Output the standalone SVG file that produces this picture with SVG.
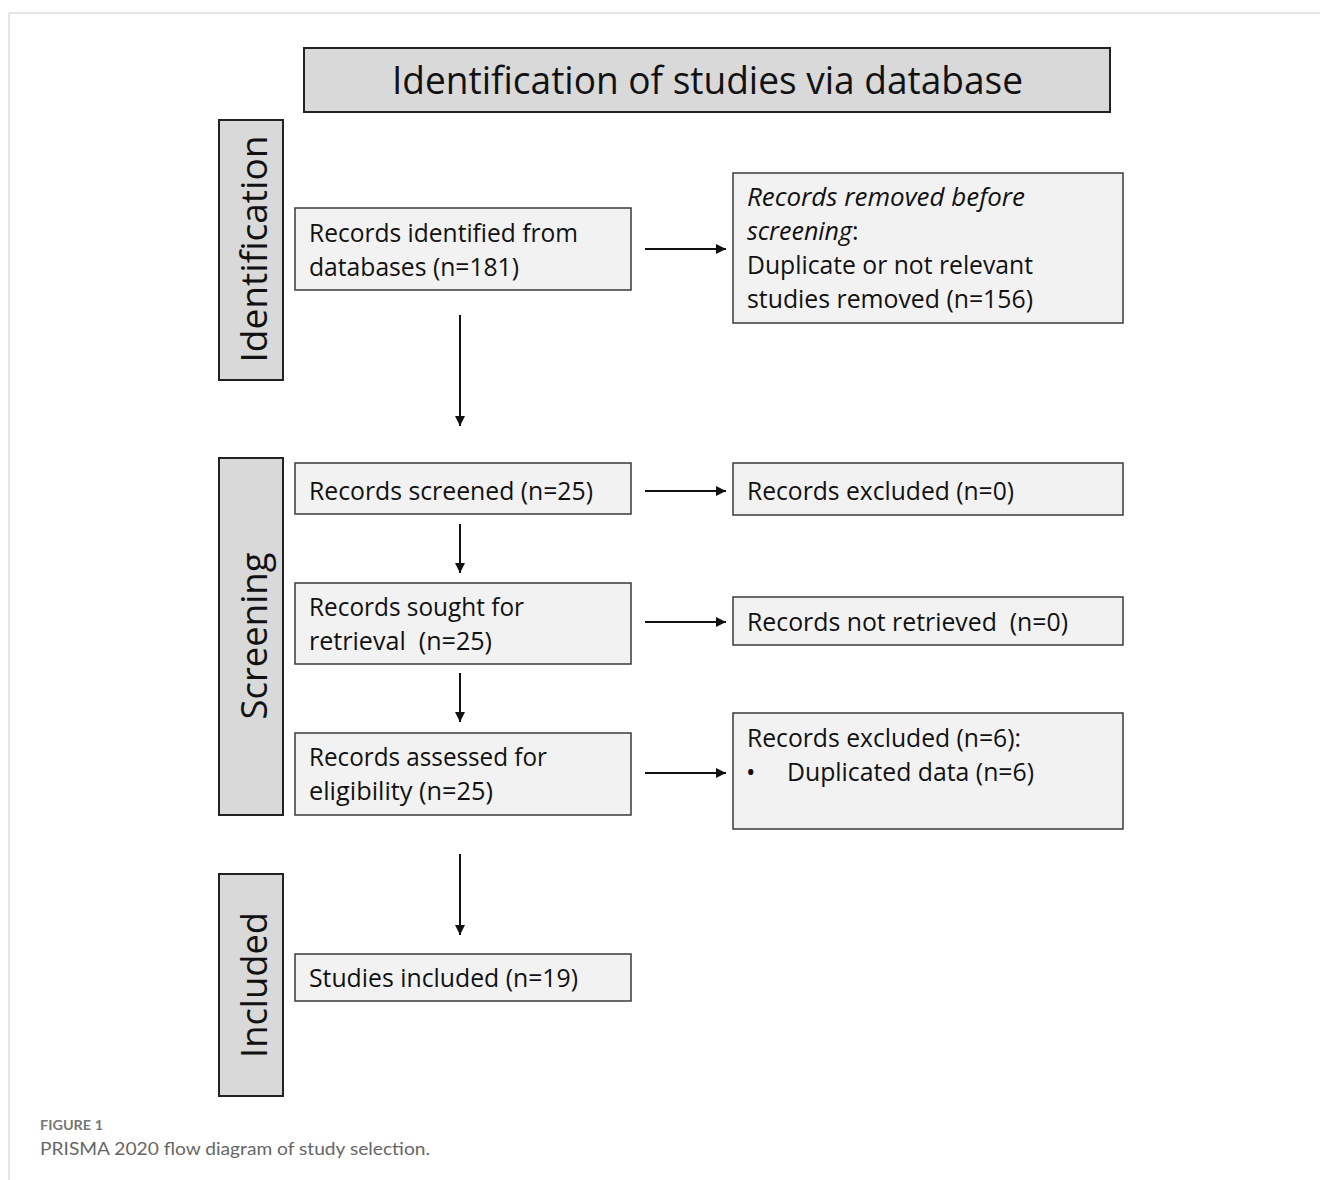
<svg xmlns="http://www.w3.org/2000/svg" width="1320" height="1180" viewBox="0 0 1320 1180">
<style>
.box{fill:#f2f2f2;stroke:#3a3a3a;stroke-width:1.5}
.hdr{fill:#d9d9d9;stroke:#222;stroke-width:2}
.t{font-family:"Open Sans","Liberation Sans",sans-serif;font-size:25px;fill:#111}
.ti{font-family:"Open Sans","Liberation Sans",sans-serif;font-size:38px;fill:#111}
.v{font-family:"Open Sans","Liberation Sans",sans-serif;font-size:37px;fill:#111}
.c{stroke:#111;stroke-width:2;fill:none;marker-end:url(#ah)}
</style>
<defs>
<marker id="ah" viewBox="0 0 10 10" refX="10" refY="5" markerWidth="5" markerHeight="5" orient="auto" markerUnits="strokeWidth">
<path d="M0,0 L10,5 L0,10 z" fill="#111"/>
</marker>
</defs>
<rect width="1320" height="1180" fill="#fff"/>
<g id="frame">
<line x1="9" y1="13" x2="1320" y2="13" stroke="#dcdcdc" stroke-width="1.5"/>
<line x1="9" y1="13" x2="9" y2="1180" stroke="#dcdcdc" stroke-width="1.5"/>
</g>
<g id="title">
<rect class="hdr" x="304" y="48" width="806" height="64"/>
<text class="ti" x="392" y="94" textLength="631" lengthAdjust="spacingAndGlyphs">Identification of studies via database</text>
</g>
<g id="phase-identification">
<rect class="hdr" x="219" y="120" width="64" height="260" stroke-width="1.5"/>
<text class="v" transform="translate(267,249) rotate(-90)" text-anchor="middle" textLength="227" lengthAdjust="spacingAndGlyphs">Identification</text>
</g>
<g id="phase-screening">
<rect class="hdr" x="219" y="458" width="64" height="357" stroke-width="1.5"/>
<text class="v" transform="translate(267,636) rotate(-90)" text-anchor="middle" textLength="167" lengthAdjust="spacingAndGlyphs">Screening</text>
</g>
<g id="phase-included">
<rect class="hdr" x="219" y="874" width="64" height="222" stroke-width="1.5"/>
<text class="v" transform="translate(267,985) rotate(-90)" text-anchor="middle" textLength="146" lengthAdjust="spacingAndGlyphs">Included</text>
</g>
<g id="n-identified">
<rect class="box" x="295" y="208" width="336" height="82"/>
<text class="t" x="309" y="242" textLength="269" lengthAdjust="spacingAndGlyphs">Records identified from</text>
<text class="t" x="309" y="276" textLength="210" lengthAdjust="spacingAndGlyphs">databases (n=181)</text>
</g>
<g id="n-removed">
<rect class="box" x="733" y="173" width="390" height="150"/>
<text class="t" x="747" y="206" font-style="italic" textLength="278" lengthAdjust="spacingAndGlyphs">Records removed before</text>
<text class="t" x="747" y="240"><tspan font-style="italic">screening</tspan>:</text>
<text class="t" x="747" y="274" textLength="286" lengthAdjust="spacingAndGlyphs">Duplicate or not relevant</text>
<text class="t" x="747" y="308" textLength="286" lengthAdjust="spacingAndGlyphs">studies removed (n=156)</text>
</g>
<g id="n-screened">
<rect class="box" x="295" y="463" width="336" height="51"/>
<text class="t" x="309" y="500" textLength="284" lengthAdjust="spacingAndGlyphs">Records screened (n=25)</text>
</g>
<g id="n-excluded0">
<rect class="box" x="733" y="463" width="390" height="52"/>
<text class="t" x="747" y="500" textLength="267" lengthAdjust="spacingAndGlyphs">Records excluded (n=0)</text>
</g>
<g id="n-sought">
<rect class="box" x="295" y="583" width="336" height="81"/>
<text class="t" x="309" y="616" textLength="215" lengthAdjust="spacingAndGlyphs">Records sought for</text>
<text class="t" x="309" y="650" textLength="183" lengthAdjust="spacingAndGlyphs" xml:space="preserve">retrieval  (n=25)</text>
</g>
<g id="n-notretrieved">
<rect class="box" x="733" y="597" width="390" height="48"/>
<text class="t" x="747" y="631" textLength="321" lengthAdjust="spacingAndGlyphs" xml:space="preserve">Records not retrieved  (n=0)</text>
</g>
<g id="n-assessed">
<rect class="box" x="295" y="733" width="336" height="82"/>
<text class="t" x="309" y="766" textLength="238" lengthAdjust="spacingAndGlyphs">Records assessed for</text>
<text class="t" x="309" y="800" textLength="184" lengthAdjust="spacingAndGlyphs">eligibility (n=25)</text>
</g>
<g id="n-excluded6">
<rect class="box" x="733" y="713" width="390" height="116"/>
<text class="t" x="747" y="747" textLength="274" lengthAdjust="spacingAndGlyphs">Records excluded (n=6):</text>
<text class="t" x="746" y="781">•</text>
<text class="t" x="787" y="781" textLength="247" lengthAdjust="spacingAndGlyphs">Duplicated data (n=6)</text>
</g>
<g id="n-included">
<rect class="box" x="295" y="954" width="336" height="47"/>
<text class="t" x="309" y="987" textLength="269" lengthAdjust="spacingAndGlyphs">Studies included (n=19)</text>
</g>
<g id="connectors">
<line class="c" x1="645" y1="249" x2="726" y2="249"/>
<line class="c" x1="645" y1="491" x2="726" y2="491"/>
<line class="c" x1="645" y1="622" x2="726" y2="622"/>
<line class="c" x1="645" y1="773" x2="726" y2="773"/>
<line class="c" x1="460" y1="315" x2="460" y2="426"/>
<line class="c" x1="460" y1="524" x2="460" y2="573"/>
<line class="c" x1="460" y1="673" x2="460" y2="722"/>
<line class="c" x1="460" y1="854" x2="460" y2="935"/>
</g>
<g id="caption">
<text x="40" y="1130" font-family="Lato,'Liberation Sans',sans-serif" font-size="14" font-weight="bold" fill="#777" textLength="63" lengthAdjust="spacingAndGlyphs">FIGURE 1</text>
<text x="40" y="1155" font-family="Lato,'Liberation Sans',sans-serif" font-size="18" fill="#666" textLength="390" lengthAdjust="spacingAndGlyphs">PRISMA 2020 flow diagram of study selection.</text>
</g>
</svg>
